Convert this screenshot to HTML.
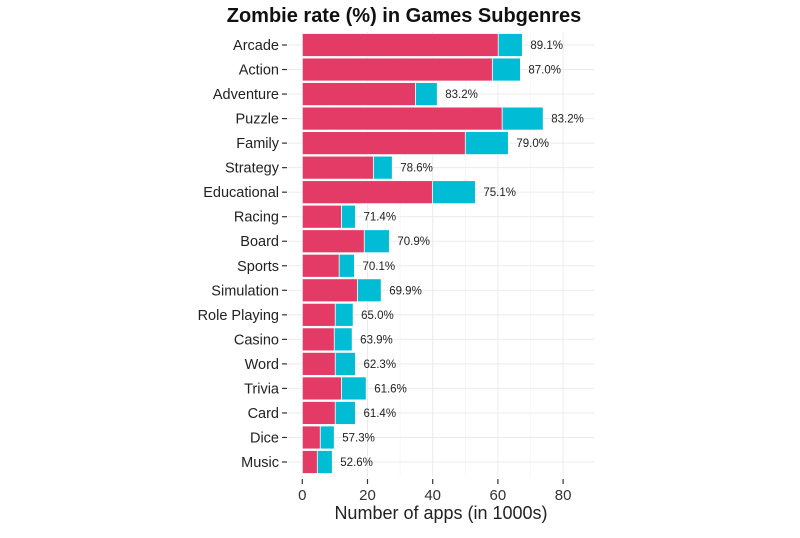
<!DOCTYPE html>
<html><head><meta charset="utf-8"><style>
body{margin:0;background:#fff;width:800px;height:533px;overflow:hidden}
text{font-family:"Liberation Sans",sans-serif}
</style></head><body>
<svg id="chart" width="800" height="533" xmlns="http://www.w3.org/2000/svg">
<text x="404" y="22" text-anchor="middle" font-size="20" font-weight="bold" fill="#111">Zombie rate (%) in Games Subgenres</text>
<rect x="288" y="32" width="306" height="445" fill="#fff"/>
<g id="grid"></g><g id="bars"></g><g id="axes"></g>
<text x="441" y="519" text-anchor="middle" font-size="18" fill="#222">Number of apps (in 1000s)</text>
</svg>
<script>
const categories=["Arcade","Action","Adventure","Puzzle","Family","Strategy","Educational","Racing","Board","Sports","Simulation","Role Playing","Casino","Word","Trivia","Card","Dice","Music"];
const zombieValues=[60.1,58.3,34.7,61.3,50,21.8,39.9,12,19,11.3,16.9,10.1,9.8,10.1,12,10.1,5.5,4.6];
const totalValues=[67.5,66.9,41.4,73.9,63.2,27.6,53.1,16.3,26.7,16,24.2,15.6,15.3,16.3,19.6,16.3,9.8,9.2];
const rateLabels=["89.1%","87.0%","83.2%","83.2%","79.0%","78.6%","75.1%","71.4%","70.9%","70.1%","69.9%","65.0%","63.9%","62.3%","61.6%","61.4%","57.3%","52.6%"];
const xTicks=[0,20,40,60,80];
const NS="http://www.w3.org/2000/svg";
const x=v=>302.3+v*3.26;
const y=i=>45+i*24.53;
const bh=23;
function mk(tag,attrs,parent,txt){const e=document.createElementNS(NS,tag);for(const k in attrs)e.setAttribute(k,attrs[k]);if(txt!==undefined)e.textContent=txt;document.getElementById(parent).appendChild(e);return e;}
const grid=document.getElementById('grid');
[10,30,50,70,90].forEach(v=>{if(x(v)<594){const l=mk('line',{x1:x(v),x2:x(v),y1:32,y2:477,stroke:'#f3f3f3','stroke-width':0.6},'grid');}});
xTicks.forEach(v=>{const l=mk('line',{x1:x(v),x2:x(v),y1:32,y2:477,stroke:'#ebebeb','stroke-width':1},'grid');
const t=mk('line',{x1:x(v),x2:x(v),y1:479,y2:484,stroke:'#333','stroke-width':1.2},'axes');
const lb=mk('text',{x:x(v),y:500,'text-anchor':'middle','font-size':15,fill:'#333'},'axes',String(v));});
categories.forEach((c,i)=>{
const g=mk('line',{x1:288,x2:594,y1:y(i),y2:y(i),stroke:'#ebebeb','stroke-width':1},'grid');
const r2=mk('rect',{x:x(0),y:y(i)-bh/2,width:x(totalValues[i])-x(0),height:bh,fill:'#00bcd4',stroke:'#fff','stroke-width':0.8},'bars');
const r1=mk('rect',{x:x(0),y:y(i)-bh/2,width:x(zombieValues[i])-x(0),height:bh,fill:'#e33a66',stroke:'#fff','stroke-width':0.8},'bars');
const rl=mk('text',{x:x(totalValues[i])+8,y:y(i)+4,'font-size':11.5,fill:'#222'},'bars',rateLabels[i]);
const tk=mk('line',{x1:282,x2:287,y1:y(i),y2:y(i),stroke:'#333','stroke-width':1.2},'axes');
const cl=mk('text',{x:279,y:y(i)+5,'text-anchor':'end','font-size':14.5,fill:'#222'},'axes',c);
});
</script>
</body></html>
